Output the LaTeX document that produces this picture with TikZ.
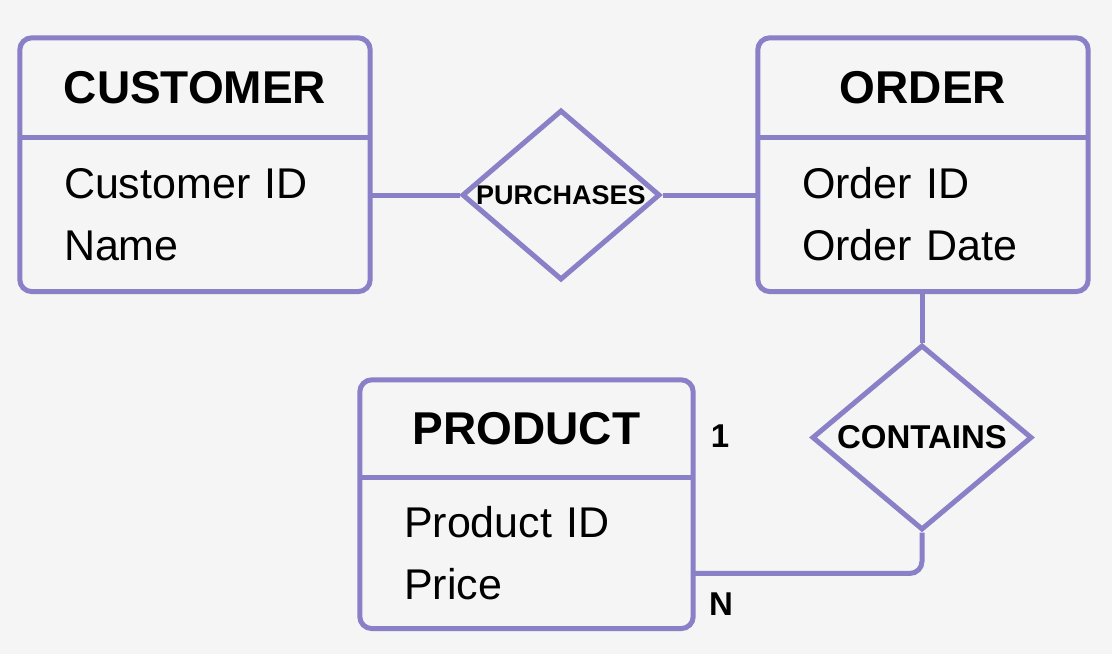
\documentclass[tikz,border=0pt]{standalone}
\usepackage{fontspec}
\setmainfont{Liberation Sans}
\usetikzlibrary{positioning,calc,shapes.geometric}
\definecolor{erpurple}{RGB}{138,128,200}
\definecolor{erback}{RGB}{245,245,245}

\begin{document}
\begin{tikzpicture}[
  x=1pt, y=-1pt,
  node distance = 0pt,
  entity title/.style={
    inner sep=0pt,
    minimum height=99pt,
    font=\fontsize{46}{52}\selectfont\bfseries,
  },
  entity attr/.style={
    inner xsep=44pt,
    inner ysep=0pt,
    minimum height=154pt,
    align=left,
    font=\fontsize{43}{62}\selectfont,
  },
  entity border/.style={
    draw=erpurple,
    line width=5pt,
    rounded corners=12pt,
  },
  relation/.style={
    diamond,
    draw=erpurple,
    line width=5pt,
    fill=erback,
    inner sep=0pt,
  },
  link/.style={
    draw=erpurple,
    line width=5pt,
  },
  card/.style={
    inner sep=0pt,
    font=\fontsize{33}{38}\selectfont\bfseries,
  },
  ]
  \fill[erback] (0,0) rectangle (1112,654);
  \useasboundingbox (0,0) rectangle (1112,654);

  % entities
  \node[entity title, minimum width=350pt] (customer) at (195,87.5) {CUSTOMER};
  \node[entity attr, text width=262pt, below=of customer] (customer-attr) {Customer ID\\Name};
  \node[entity title, minimum width=330pt] (order) at (923,87.5) {ORDER};
  \node[entity attr, text width=242pt, below=of order] (order-attr) {Order ID\\Order Date};
  \node[entity title, minimum width=333pt, minimum height=97pt] (product) at (526.5,428.5) {PRODUCT};
  \node[entity attr, text width=245pt, minimum height=151pt, below=of product] (product-attr) {Product ID\\Price};

  \draw[entity border] (customer.north west) rectangle (customer-attr.south east);
  \draw[link] (customer.south west) -- (customer.south east);
  \draw[entity border] (order.north west) rectangle (order-attr.south east);
  \draw[link] (order.south west) -- (order.south east);
  \draw[entity border] (product.north west) rectangle (product-attr.south east);
  \draw[link] (product.south west) -- (product.south east);

  % relationships
  \node[relation, aspect=1.16, minimum width=198pt, minimum height=170pt,
    font=\fontsize{27}{30}\selectfont\bfseries] (purchases) at (561,195) {PURCHASES};
  \node[relation, aspect=1.19, minimum width=220pt, minimum height=185pt,
    font=\fontsize{33}{36}\selectfont\bfseries] (contains) at (922,437.5) {CONTAINS};

  \draw[link] (customer-attr.east |- purchases.west) -- (purchases.west);
  \draw[link] (purchases.east) -- (purchases.east -| order-attr.west);
  \draw[link] (contains.north) -- (contains.north |- order-attr.south);
  \coordinate (product-link) at ([yshift=-20.5pt]product-attr.east);
  \draw[link, rounded corners=12pt] (contains.south) |- (product-link);

  % cardinalities
  \node[card] (card-one) at (720,436) {1};
  \node[card] (card-many) at (721,604) {N};
\end{tikzpicture}
\end{document}
